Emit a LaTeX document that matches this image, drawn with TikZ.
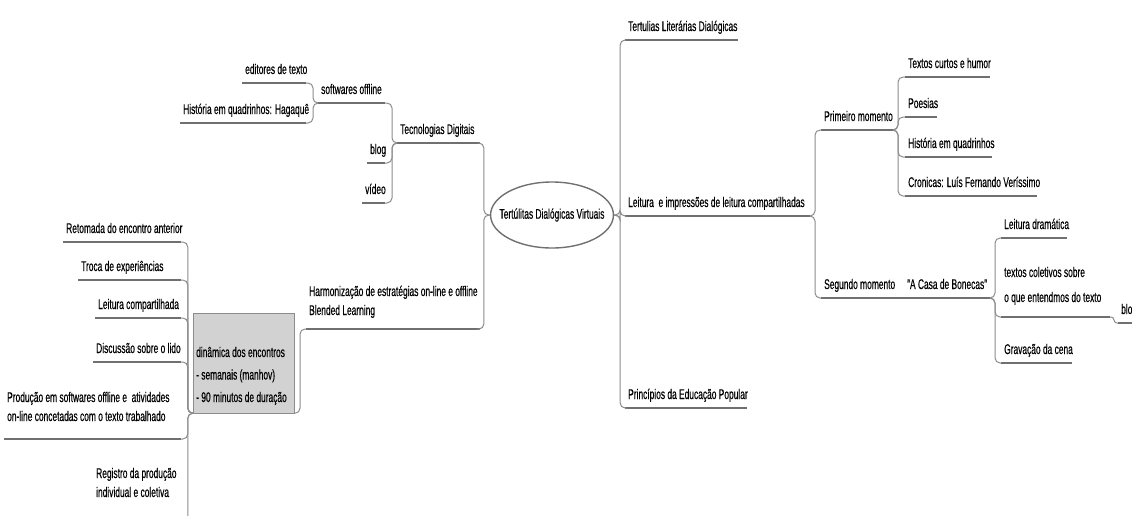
\documentclass[tikz,border=0pt]{standalone}
\usepackage{fontspec}
\setmainfont[FakeStretch=0.6,FakeBold=0.4]{Liberation Sans}
\usetikzlibrary{shapes.geometric,fit,backgrounds}
\definecolor{lc}{RGB}{112,112,112}
\definecolor{cc}{RGB}{140,140,140}
\definecolor{boxgray}{RGB}{210,210,210}
\tikzset{
  uline/.style={draw=lc, line width=1.6pt},
  conn/.style={draw=cc, line width=1pt, rounded corners=5pt},
  txt/.style={font=\fontsize{14}{19}\selectfont, inner sep=0pt, text=black, align=left},
}
\newcommand\tpc[5]{%
  \coordinate (#1-l) at (#2,#4);
  \coordinate (#1-r) at (#3,#4);
  \draw[uline] (#1-l) -- (#1-r);
  \node[txt,anchor=base west] (#1) at (#2+3,#4-9) {#5};}
% multi-line: #5 = baseline of the last line
\newcommand\tpcm[6]{%
  \coordinate (#1-l) at (#2,#4);
  \coordinate (#1-r) at (#3,#4);
  \draw[uline] (#1-l) -- (#1-r);
  \node[txt,anchor=base west] (#1) at (#2+3,#5) {#6};}
\begin{document}
\begin{tikzpicture}[x=1pt,y=-1pt]
\useasboundingbox (0,0) rectangle (1132,515);
% centre
\node[txt, ellipse, draw=lc, line width=1.4pt, inner xsep=-9pt, inner ysep=0pt, minimum width=121pt, minimum height=66pt] (C) at (552,215) {Tertúlitas Dialógicas Virtuais};
% right side
\tpc{T1}{625}{738}{40}{Tertulias Literárias Dialógicas}
\tpc{T2}{625}{810}{216}{Leitura \ e impressões de leitura compartilhadas}
\tpc{T3}{625}{747}{408}{Princípios da Educação Popular}
\draw[conn] (C.east) -- ++(6,0) |- (T1-l);
\draw[conn] (C.east) -- ++(6,0) |- (T2-l);
\draw[conn] (C.east) -- ++(6,0) |- (T3-l);
\tpc{P1}{821}{893}{130}{Primeiro momento}
\tpc{P2}{821}{898}{298}{Segundo momento}
\draw[conn] (T2-r) -- ++(5,0) |- (P1-l);
\draw[conn] (T2-r) -- ++(5,0) |- (P2-l);
\tpc{K1}{905}{990}{77}{Textos curtos e humor}
\tpc{K2}{905}{937}{117}{Poesias}
\tpc{K3}{905}{992}{157}{História em quadrinhos}
\tpc{K4}{905}{1037}{196}{Cronicas: Luís Fernando Veríssimo}
\foreach \k in {K1,K2,K3,K4} \draw[conn] (P1-r) -- ++(5,0) |- (\k-l);
\tpc{AC}{904}{990}{298}{"A Casa de Bonecas"}
\draw[uline] (P2-r) -- (AC-l);
\tpc{S1}{1001}{1067}{238}{Leitura dramática}
\tpcm{S2}{1001}{1110}{317}{302}{textos coletivos sobre\\[6pt]o que entendmos do texto}
\tpc{S3}{1001}{1072}{363}{Gravação da cena}
\foreach \k in {S1,S2,S3} \draw[conn] (AC-r) -- ++(5,0) |- (\k-l);
\tpc{BL}{1118}{1145}{323}{blog}
\draw[conn, rounded corners=3pt] (S2-r) -- ++(4,0) |- (BL-l);
% left side
\tpc{TD}{397}{480}{143}{Tecnologias Digitais}
\tpcm{HA}{306}{480}{329}{315}{Harmonização de estratégias on-line e offline\\Blended Learning}
\draw[conn] (C.west) -- ++(-6,0) |- (TD-r);
\draw[conn] (C.west) -- ++(-6,0) |- (HA-r);
\tpc{SW}{318}{385}{103}{softwares offline}
\tpc{BG}{367}{385}{163}{blog}
\tpc{VD}{362}{385}{203}{vídeo}
\foreach \k in {SW,BG,VD} \draw[conn] (TD-l) -- ++(-5,0) |- (\k-r);
\tpc{ED}{242}{306}{83}{editores de texto}
\tpc{HQ}{180}{306}{123}{História em quadrinhos: Hagaquê}
\foreach \k in {ED,HQ} \draw[conn] (SW-l) -- ++(-5,0) |- (\k-r);
% box
\node[txt, anchor=base west, font=\fontsize{14}{22.5}\selectfont] (DBt) at (196,402) {dinâmica dos encontros\\- semanais (manhov)\\- 90 minutos de duração};
\begin{scope}[on background layer]
\node[draw=cc, fill=boxgray, inner sep=0pt, fit={(193,313) (294,413)}] (DB) {};
\end{scope}
\draw[conn] (HA-l) -- ++(-6,0) |- (DB.south east);
\tpc{R1}{63}{181}{242}{Retomada do encontro anterior}
\tpc{R2}{78}{181}{280}{Troca de experiências}
\tpc{R3}{95}{181}{318}{Leitura compartilhada}
\tpc{R4}{93}{181}{362}{Discussão sobre o lido}
\tpcm{R5}{4}{181}{439}{421}{Produção em softwares offline e \ atividades\\on-line concetadas com o texto trabalhado}
\tpcm{R6}{93}{181}{522}{497}{Registro da produção\\individual e coletiva}
\foreach \k in {R1,R2,R3,R4,R5,R6} \draw[conn] (DB.south west) -- ++(-5,0) |- (\k-r);
\end{tikzpicture}
\end{document}
